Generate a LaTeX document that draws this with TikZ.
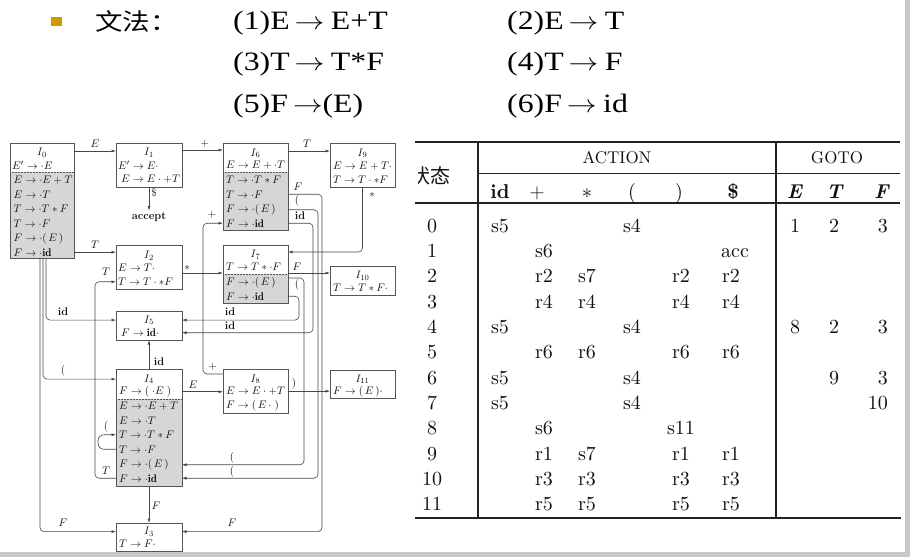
\documentclass[tikz,border=0pt]{standalone}
\usepackage{fontspec}
\newfontfamily\hdrfont{Liberation Serif}
\newfontfamily\cjk{Noto Sans CJK SC}
\newfontfamily\tabfont{lmroman10-regular.otf}[BoldFont=lmroman10-bold.otf, ItalicFont=lmroman10-italic.otf, BoldItalicFont=lmroman10-bolditalic.otf]
\usetikzlibrary{arrows.meta,calc}
\definecolor{linec}{HTML}{474747}
\definecolor{boxc}{HTML}{555555}
\definecolor{shadec}{HTML}{D6D6D6}
\definecolor{txtc}{HTML}{111111}
\definecolor{bulletc}{HTML}{CC9900}
\definecolor{framec}{HTML}{C8C8C8}
\definecolor{rulec}{HTML}{222222}
\newcommand\dfont{\fontsize{11}{12.5}\selectfont}
\newcommand\harrbare{\kern4pt{\fontsize{26}{30}\selectfont$\rightarrow$}}
\newcommand\harr{\harrbare\kern5.5pt}
\newcommand\hdrtext[1]{\scalebox{1.2}[1]{#1}}
\begin{document}
\begin{tikzpicture}[x=1pt,y=-1pt,
  stbox/.style={draw=boxc, line width=0.65pt, inner sep=0pt, outer sep=0pt, anchor=north west},
  lowshade/.style={path picture={
     \fill[shadec] ([yshift=-#1]path picture bounding box.north west) rectangle (path picture bounding box.south east);
     \draw[boxc, densely dotted, line width=0.5pt] ([yshift=-#1]path picture bounding box.north west) -- ([yshift=-#1]path picture bounding box.north east);}},
  itm/.style={anchor=base west, inner sep=0pt, font=\dfont, text=txtc},
  ttl/.style={anchor=base, inner sep=0pt, font=\dfont, text=txtc},
  lab/.style={inner sep=0pt, font=\dfont, text=txtc},
  conn/.style={draw=linec, line width=0.6pt, rounded corners=4pt, -{Latex[length=4.5pt,width=3pt]}},
  hdr/.style={anchor=base west, inner sep=0pt, font=\hdrfont\fontsize{26.5}{30}\selectfont, text=black},
  tcell/.style={anchor=base, inner sep=0pt, font=\tabfont\fontsize{20}{24}\selectfont, text=txtc},
  thd/.style={anchor=base, inner sep=0pt, font=\tabfont\fontsize{17}{20}\selectfont, text=txtc},
  trule/.style={draw=rulec}
]
\useasboundingbox (0,0) rectangle (910,557);
\fill[white] (0,0) rectangle (910,557);
\fill[framec] (905,0) rectangle (910,557);
\fill[framec] (0,552) rectangle (910,557);

% ---------- header ----------
\node[fill=bulletc, minimum width=11.5pt, minimum height=9.5pt, inner sep=0pt] (bul) at (56.3,21.5) {};
\node[anchor=west, inner sep=0pt, font=\cjk\fontsize{23.5}{26}\selectfont] (wf) at (95,21) {\scalebox{1.17}[1]{文法：}};
\node[hdr] (g1) at (233,29) {\hdrtext{(1)E\harr E+T}};
\node[hdr] (g2) at (507,29) {\hdrtext{(2)E\harr T}};
\node[hdr] (g3) at (233,70) {\hdrtext{(3)T\harr T*F}};
\node[hdr] (g4) at (507,70) {\hdrtext{(4)T\harr F}};
\node[hdr] (g5) at (233,112) {\hdrtext{(5)F\harrbare(E)}};
\node[hdr] (g6) at (507,112) {\hdrtext{(6)F\harr id}};

% ---------- states ----------
% I0
\node[stbox, lowshade=29pt, minimum width=64pt, minimum height=115pt] (I0) at (10,143) {};
\node[ttl] (i0t) at (42,155.5) {$I_0$};
\node[itm] (i0a) at (12,169) {$E'\to\cdot E$};
\node[itm] (i0b) at (13.5,183.5) {$E\to\cdot E+T$};
\node[itm] (i0c) at (13.5,198) {$E\to\cdot T$};
\node[itm] (i0d) at (13.5,212.5) {$T\to\cdot T*F$};
\node[itm] (i0e) at (13.5,227) {$T\to\cdot F$};
\node[itm] (i0f) at (13.5,241.5) {$F\to\cdot(\,E\,)$};
\node[itm] (i0g) at (13.5,256) {$F\to\cdot\mathbf{id}$};
% I1
\node[stbox, minimum width=66pt, minimum height=44pt] (I1) at (116,143) {};
\node[ttl] (i1t) at (149,155.5) {$I_1$};
\node[itm] (i1a) at (118,169.5) {$E'\to E\cdot$};
\node[itm] (i1b) at (121,182.5) {$E\to E\cdot+T$};
% I2
\node[stbox, minimum width=66pt, minimum height=44pt] (I2) at (116,245) {};
\node[ttl] (i2t) at (149,258.5) {$I_2$};
\node[itm] (i2a) at (118,271.5) {$E\to T\cdot$};
\node[itm] (i2b) at (118,285.5) {$T\to T\cdot *F$};
% I5
\node[stbox, minimum width=66pt, minimum height=29pt] (I5) at (116,311) {};
\node[ttl] (i5t) at (149,323) {$I_5$};
\node[itm] (i5a) at (121,336.5) {$F\to\mathbf{id}\cdot$};
% I4
\node[stbox, lowshade=30pt, minimum width=66pt, minimum height=117pt] (I4) at (116,369) {};
\node[ttl] (i4t) at (149,382) {$I_4$};
\node[itm] (i4a) at (119,394.5) {$F\to(\;\cdot E\;)$};
\node[itm] (i4b) at (119,409.5) {$E\to\cdot E+T$};
\node[itm] (i4c) at (119,424) {$E\to\cdot T$};
\node[itm] (i4d) at (119,438.5) {$T\to\cdot T*F$};
\node[itm] (i4e) at (119,453) {$T\to\cdot F$};
\node[itm] (i4f) at (119,467.5) {$F\to\cdot(\,E\,)$};
\node[itm] (i4g) at (119,482) {$F\to\cdot\mathbf{id}$};
% I3
\node[stbox, minimum width=66pt, minimum height=28pt] (I3) at (116,523) {};
\node[ttl] (i3t) at (149,534.5) {$I_3$};
\node[itm] (i3a) at (119,547.5) {$T\to F\cdot$};
% I6
\node[stbox, lowshade=29pt, minimum width=65pt, minimum height=87pt] (I6) at (223,143) {};
\node[ttl] (i6t) at (255.5,156) {$I_6$};
\node[itm] (i6a) at (226,168.5) {$E\to E+\cdot T$};
\node[itm] (i6b) at (226,183.5) {$T\to\cdot T*F$};
\node[itm] (i6c) at (226,198) {$T\to\cdot F$};
\node[itm] (i6d) at (226,212.5) {$F\to\cdot(\,E\,)$};
\node[itm] (i6e) at (226,227) {$F\to\cdot\mathbf{id}$};
% I9
\node[stbox, minimum width=65pt, minimum height=44pt] (I9) at (330,143) {};
\node[ttl] (i9t) at (362.5,156) {$I_9$};
\node[itm] (i9a) at (333,169) {$E\to E+T\cdot$};
\node[itm] (i9b) at (333,183.5) {$T\to T\cdot *F$};
% I7
\node[stbox, lowshade=29pt, minimum width=65pt, minimum height=58pt] (I7) at (223,245) {};
\node[ttl] (i7t) at (255.5,257.5) {$I_7$};
\node[itm] (i7a) at (226,270.5) {$T\to T*\cdot F$};
\node[itm] (i7b) at (226,285.5) {$F\to\cdot(\,E\,)$};
\node[itm] (i7c) at (226,300) {$F\to\cdot\mathbf{id}$};
% I10
\node[stbox, minimum width=65pt, minimum height=29pt] (I10) at (330,266) {};
\node[ttl] (i10t) at (362.5,278.5) {$I_{10}$};
\node[itm] (i10a) at (333,291.5) {$T\to T*F\cdot$};
% I8
\node[stbox, minimum width=65pt, minimum height=44pt] (I8) at (223,369) {};
\node[ttl] (i8t) at (255.5,382) {$I_8$};
\node[itm] (i8a) at (226,394.5) {$E\to E\cdot+T$};
\node[itm] (i8b) at (226,408.5) {$F\to(\,E\,\cdot\;)$};
% I11
\node[stbox, minimum width=65pt, minimum height=28pt] (I11) at (330,370) {};
\node[ttl] (i11t) at (362.5,382) {$I_{11}$};
\node[itm] (i11a) at (333,394.5) {$F\to(\,E\,)\cdot$};
% accept
\node[lab, inner sep=1.5pt, font=\dfont\bfseries] (acc) at (149,217) {accept};

% ---------- transitions ----------
\draw[conn] ([yshift=-8pt]I0.north east) -- ([yshift=-8pt]I1.north west);
\node[lab] (lE1) at (95,144) {$E$};
\draw[conn] ([yshift=-7pt]I1.north east) -- ([yshift=-7pt]I6.north west);
\node[lab] (lp1) at (205,144) {$+$};
\draw[conn] (I1.south) -- (acc.north);
\node[lab] (ldol) at (154,193) {\$};
\draw[conn] (I0.east |- i0g) -- (I2.west |- i0g);
\node[lab] (lT1) at (95,245) {$T$};
\draw[conn] ([xshift=36pt]I0.south west) |- (I5.west |- i5t);
\node[lab] (lid1) at (63,312) {\textbf{id}};
\draw[conn] ([xshift=33pt]I0.south west) |- (I4.west |- i4t);
\node[lab] (lpar1) at (63,371) {$($};
\draw[conn] ([xshift=30pt]I0.south west) |- (I3.west |- i3t);
\node[lab] (lF1) at (63,523) {$F$};
\draw[conn] ([yshift=-28pt]I2.north east) -- ([yshift=-28pt]I7.north west);
\node[lab] (last1) at (187,268) {$*$};
\draw[conn] (I4.north) -- (I5.south);
\node[lab] (lid2) at (159,362) {\textbf{id}};
\draw[conn] (I4.east |- i4a) -- (I8.west |- i4a);
\node[lab] (lE2) at (193,385) {$E$};
\draw[conn] (I4.south) -- (I3.north);
\node[lab] (lF2) at (156,506) {$F$};
\draw[conn, rounded corners=6pt] (I4.west |- i4e) -- ++(-18,0) |- (I4.west |- i4d);
\node[lab] (lpar2) at (106,427) {$($};
\draw[conn] (I4.west |- i4g) -- ++(-21,0) |- (I2.west |- i2b);
\node[lab] (lT2) at (106,272) {$T$};
\node[lab] (lT3) at (106,471) {$T$};
\draw[conn] ([yshift=-8pt]I6.north east) -- ([yshift=-8pt]I9.north west);
\node[lab] (lT4) at (307,144) {$T$};
\draw[conn] (I9.south) |- ([yshift=-7pt]I7.north east);
\node[lab] (last2) at (372,195) {$*$};
\draw[conn] (I6.east |- i6c) -- ++(34,0) |- (I3.east |- i3t);
\node[lab] (lF3) at (298,187) {$F$};
\node[lab] (lF4) at (232,523) {$F$};
\draw[conn] (I6.east |- i6d) -- ++(30,0) |- (I4.east |- i4g);
\node[lab] (lpar3) at (297,201) {$($};
\node[lab] (lpar4) at (232,472) {$($};
\draw[conn] (I6.east |- i6e) -- ++(25,0) |- (I5.east |- i5a);
\node[lab] (lid3) at (300,216) {\textbf{id}};
\node[lab] (lid4) at (230,326) {\textbf{id}};
\draw[conn] ([yshift=-28pt]I7.north east) -- ([yshift=-7pt]I10.north west);
\node[lab] (lF5) at (297,267) {$F$};
\draw[conn] ([yshift=-33pt]I7.north east) -- ++(16,0) |- (I4.east |- i4f);
\node[lab] (lpar5) at (297,285) {$($};
\node[lab] (lpar6) at (232,458) {$($};
\draw[conn] (I7.east |- i7c) -- ++(11,0) |- (I5.east |- i5t);
\node[lab] (lid5) at (230,312) {\textbf{id}};
\draw[conn] ([yshift=-5pt]I8.north west) -- ++(-20,0) |- (I6.west |- i6e);
\node[lab] (lp2) at (213,367) {$+$};
\node[lab] (lp3) at (212,215) {$+$};
\draw[conn] (I8.east |- i8a) -- (I11.west |- i8a);
\node[lab] (lrp) at (294,384) {$)$};

% ---------- table ----------
\draw[trule, line width=1.8pt] (415,142) -- (900,142);
\draw[trule, line width=0.9pt] (478,173) -- (900,173);
\draw[trule, line width=1.3pt] (415,203) -- (900,203);
\draw[trule, line width=1.8pt] (415,518) -- (901,518);
\draw[trule, line width=1.2pt] (478,142) -- (478,518);
\draw[trule, line width=1.2pt] (776,142) -- (776,518);
\node[thd] (tA) at (617,163) {ACTION};
\node[thd] (tG) at (837,163) {GOTO};
\begin{scope}
  \clip (418,150) rectangle (475,200);
  \node[inner sep=0pt, font=\cjk\fontsize{20}{22}\selectfont, text=txtc] (tS) at (430,176) {状态};
\end{scope}
\node[tcell] (h1) at (500,198) {\textbf{id}};
\node[tcell] (h2) at (537,198) {$+$};
\node[tcell] (h3) at (587,198) {$*$};
\node[tcell] (h4) at (632,198) {(};
\node[tcell] (h5) at (679,198) {)};
\node[tcell] (h6) at (733,198) {\textbf{\$}};
\node[tcell] (h7) at (795,198) {\textbf{\textit{E}}};
\node[tcell] (h8) at (835,198) {\textbf{\textit{T}}};
\node[tcell] (h9) at (882,198) {\textbf{\textit{F}}};
\foreach \r in {0,...,11}
  \node[tcell] (n\r) at (432,{232+25.36*\r}) {\r};
\foreach \x/\r/\t in {500/0/s5,632/0/s4,795/0/1,834/0/2,
    544/1/s6,735/1/acc,
    544/2/r2,587/2/s7,681/2/r2,731/2/r2,
    544/3/r4,587/3/r4,681/3/r4,731/3/r4,
    500/4/s5,632/4/s4,795/4/8,834/4/2,
    544/5/r6,587/5/r6,681/5/r6,731/5/r6,
    500/6/s5,632/6/s4,834/6/9,
    500/7/s5,632/7/s4,
    544/8/s6,681/8/s11,
    544/9/r1,587/9/s7,681/9/r1,731/9/r1,
    544/10/r3,587/10/r3,681/10/r3,731/10/r3,
    544/11/r5,587/11/r5,681/11/r5,731/11/r5}
  \node[tcell] (e\r-\x) at (\x,{232+25.36*\r}) {\t};
\foreach \r/\t in {0/3,4/3,6/3,7/10}
  \node[tcell, anchor=base east] (f\r) at (888,{232+25.36*\r}) {\t};
\end{tikzpicture}
\end{document}
